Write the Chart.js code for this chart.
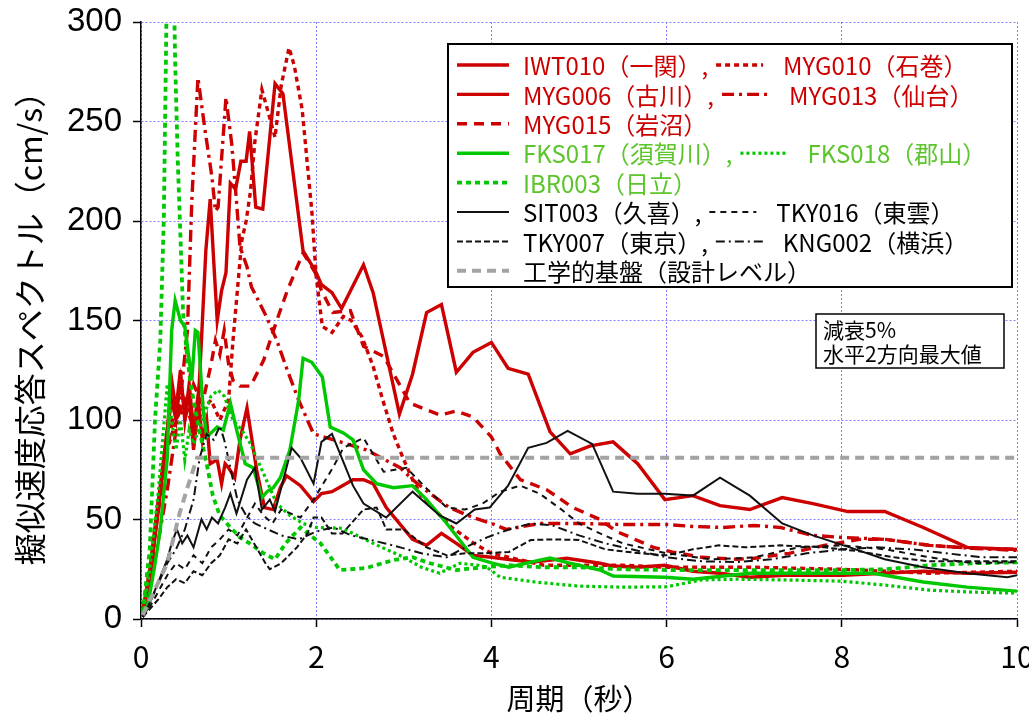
<!DOCTYPE html>
<html lang="ja">
<head>
<meta charset="utf-8">
<title>擬似速度応答スペクトル</title>
<script src="https://cdn.jsdelivr.net/npm/chart.js@4.4.1/dist/chart.umd.min.js"></script>
<style>
  html, body { margin: 0; padding: 0; background: #fff; }
  #wrap { width: 1029px; height: 713px; }
</style>
</head>
<body>
<div id="wrap"><canvas id="spectrum" width="1029" height="713"></canvas></div>
<script>
// [周期(秒), 擬似速度応答(cm/s)]
const IWT010 = [[0.02,4],[0.1,25],[0.2,60],[0.3,95],[0.35,110],[0.4,100],[0.45,120],[0.5,105],[0.55,112],[0.6,85],[0.65,105],[0.69,140],[0.74,185],[0.79,211],[0.83,180],[0.87,150],[0.92,165],[0.97,174],[1.02,219],[1.08,216],[1.14,230],[1.2,230],[1.24,245],[1.31,207],[1.39,206],[1.53,269],[1.62,264],[1.85,185],[1.99,175],[2.06,168],[2.18,164],[2.29,156],[2.54,178],[2.65,164],[2.95,103],[3.1,123],[3.26,154],[3.43,158],[3.6,124],[3.79,134],[4.0,139],[4.19,126],[4.42,123],[4.67,94],[4.9,83],[5.13,87],[5.39,89],[5.67,78],[5.98,60],[6.3,62],[6.61,57],[6.95,55],[7.32,61],[7.67,58],[8.07,54],[8.49,54],[8.93,46],[9.43,36],[10,35]];
const MYG010 = [[0.02,3],[0.1,25],[0.2,60],[0.3,85],[0.4,100],[0.5,110],[0.6,95],[0.7,105],[0.8,110],[0.9,100],[1.0,110],[1.05,140],[1.1,165],[1.15,190],[1.2,200],[1.25,215],[1.3,240],[1.38,266],[1.45,255],[1.53,242],[1.6,268],[1.69,287],[1.75,278],[1.84,256],[1.95,205],[2.0,172],[2.07,147],[2.18,144],[2.31,152],[2.4,150],[2.52,142],[2.65,127],[2.76,110],[2.88,93],[3.0,80],[3.1,70],[3.2,62],[3.35,55],[3.55,46],[3.8,38],[4.0,33],[4.3,30],[4.6,27],[5.0,27],[5.5,27],[6.0,26],[7.0,26],[8.0,25],[9.0,23],[10,24]];
const MYG006 = [[0.02,3],[0.1,20],[0.2,55],[0.3,95],[0.35,120],[0.4,105],[0.45,125],[0.5,100],[0.55,118],[0.6,95],[0.65,112],[0.7,90],[0.75,100],[0.79,78],[0.87,80],[0.92,68],[0.96,78],[1.0,76],[1.07,71],[1.13,90],[1.21,106],[1.32,75],[1.41,56],[1.51,55],[1.59,66],[1.66,72],[1.82,67],[1.97,59],[2.06,63],[2.18,64],[2.42,70],[2.54,70],[2.65,68],[2.8,56],[3.1,40],[3.26,37],[3.43,43],[3.6,38],[3.79,32],[4.0,31],[4.25,29.6],[4.48,28.6],[4.86,30.5],[5.24,28],[5.39,26.6],[5.67,26],[5.98,27],[6.3,24],[6.61,23],[6.95,21],[7.34,22],[8.02,22],[8.47,23],[8.93,24],[9.43,23],[10,23.5]];
const MYG013 = [[0.02,3],[0.1,18],[0.2,40],[0.3,65],[0.4,95],[0.45,111],[0.53,145],[0.58,210],[0.65,272],[0.73,246],[0.81,222],[0.85,205],[0.88,207],[0.97,262],[1.035,239],[1.09,210],[1.13,187],[1.21,177],[1.26,167],[1.34,160],[1.43,152],[1.55,140],[1.67,125],[1.8,110],[1.97,93],[2.2,90],[2.57,85],[2.96,76],[3.1,70],[3.3,63],[3.52,56],[3.79,51],[4.0,48],[4.17,45],[4.55,48],[5.0,48],[5.5,47.5],[6.0,47.5],[6.3,46.5],[6.64,46],[7.0,47],[7.3,46],[7.67,42],[8.0,41],[8.5,40],[9.0,37],[9.5,35.5],[10,34.5]];
const MYG015 = [[0.02,3],[0.1,25],[0.2,55],[0.3,85],[0.4,110],[0.5,100],[0.6,118],[0.7,108],[0.8,128],[0.85,140],[0.9,133],[0.95,145],[1.0,128],[1.05,120],[1.13,117],[1.25,117],[1.4,130],[1.55,150],[1.67,165],[1.85,184],[1.99,174],[2.06,165],[2.19,154],[2.39,155],[2.54,137],[2.77,132],[3.07,108.5],[3.41,102.5],[3.6,104.5],[3.79,101.5],[4.0,91.5],[4.1,83],[4.33,70],[4.63,65],[4.93,56],[5.24,50],[5.43,44],[5.85,36],[6.07,33.6],[6.4,31],[6.8,30],[7.0,30.5],[7.4,33],[7.8,37],[8.2,40],[8.5,40],[9.0,37],[9.5,35.5],[10,35]];
const FKS017 = [[0.02,2],[0.07,5],[0.15,25],[0.22,45],[0.3,81],[0.35,145],[0.39,160],[0.45,150],[0.5,147],[0.58,120],[0.62,145],[0.65,144],[0.71,105],[0.75,91.5],[0.87,96.5],[0.94,95],[1.02,108.5],[1.1,93.5],[1.19,78],[1.28,76],[1.38,61],[1.44,64],[1.51,66],[1.59,71],[1.7,85],[1.8,110],[1.85,131],[1.95,129],[2.07,121.6],[2.16,96.5],[2.31,93.5],[2.42,90],[2.54,75],[2.69,68],[2.88,66],[3.1,67],[3.26,60],[3.49,48],[3.79,31],[4.02,28],[4.2,26],[4.55,29.6],[4.67,30.6],[4.9,28],[5.24,24.6],[5.39,21.6],[5.98,21],[6.3,20],[6.95,23],[7.7,23],[8.36,23],[8.93,18.6],[9.43,16],[10,14]];
const FKS018 = [[0.02,2],[0.1,25],[0.2,65],[0.3,118],[0.35,100],[0.4,85],[0.45,100],[0.5,80],[0.55,95],[0.6,88],[0.7,100],[0.8,112],[0.88,115],[0.95,112],[1.05,100],[1.15,95],[1.25,88],[1.35,78],[1.45,68],[1.55,58],[1.7,52],[1.85,48],[2.0,46],[2.3,45.6],[2.42,43],[2.6,39],[2.77,35.6],[3.0,31],[3.2,26],[3.41,23],[3.64,28],[3.85,27],[3.95,26],[4.1,21],[4.5,18.6],[5.0,16.5],[5.5,16],[6.0,16.2],[6.4,19.6],[6.8,20],[7.5,19.5],[8.0,19],[8.5,17],[9.0,14.5],[9.5,13.5],[10,13]];
const IBR003 = [[0.02,3],[0.1,35],[0.16,100],[0.22,140],[0.26,200],[0.29,300],[0.31,330],[0.37,330],[0.39,280],[0.42,230],[0.46,180],[0.48,154],[0.52,135],[0.56,120],[0.62,105],[0.68,92],[0.75,78],[0.82,62],[0.9,52],[1.0,47],[1.13,41],[1.24,38],[1.4,33],[1.53,30],[1.65,38],[1.82,46],[2.05,38],[2.27,24.6],[2.57,25.6],[2.88,29.6],[3.1,31],[3.3,28],[3.6,24.6],[3.9,26],[4.2,27],[4.6,26],[5.0,26],[5.5,25],[6.0,24.6],[7.0,24.6],[8.0,24.6],[8.5,25],[9.0,27],[9.5,28],[10,28.5]];
const SIT003 = [[0.02,1],[0.1,8],[0.22,21],[0.3,30],[0.35,38],[0.41,45],[0.47,38],[0.53,42],[0.6,36],[0.69,50],[0.75,45],[0.81,51],[0.88,48],[0.96,56],[1.02,63],[1.09,53],[1.21,70],[1.3,76],[1.38,55],[1.47,60],[1.53,54],[1.72,86],[1.82,81],[1.97,68],[2.06,89],[2.18,93],[2.42,67],[2.54,58],[2.8,51],[3.1,64],[3.41,52],[3.6,48],[3.81,55],[3.98,56],[4.19,67],[4.42,86],[4.63,88.5],[4.87,94.5],[5.15,88],[5.39,64],[5.67,63],[5.98,63],[6.3,62],[6.61,71],[6.95,62],[7.32,48],[7.67,42],[8.09,36],[8.49,30],[8.93,26],[9.43,23],[9.89,21],[10,22]];
const TKY016 = [[0.02,1],[0.1,6],[0.2,14],[0.3,22],[0.4,28],[0.5,25],[0.6,32],[0.7,28],[0.8,36],[0.9,40],[1.0,45],[1.1,42],[1.2,50],[1.3,58],[1.4,52],[1.5,48],[1.6,55],[1.82,51],[1.97,60],[2.19,76],[2.31,86],[2.54,91],[2.77,74],[3.03,76],[3.25,66],[3.49,56],[3.7,55],[3.9,58],[4.1,64],[4.33,67],[4.55,63],[4.8,55],[5.0,48],[5.24,43],[5.5,38],[6.0,33],[6.5,30],[7.0,31],[7.5,36],[8.0,37],[8.5,35],[9.0,31],[9.5,28],[10,28.5]];
const TKY007 = [[0.02,1],[0.1,5],[0.2,10],[0.3,16],[0.4,20],[0.5,18],[0.6,24],[0.7,22],[0.8,28],[0.9,32],[1.0,40],[1.1,38],[1.2,45],[1.33,35],[1.42,28],[1.47,25],[1.6,28],[1.78,36],[1.9,43],[1.97,51],[2.06,51],[2.18,43],[2.3,43],[2.54,55],[2.69,56],[2.8,45],[3.0,45],[3.26,36],[3.49,32],[3.7,33],[3.9,33],[4.2,33.7],[4.45,39.7],[4.7,40],[5.0,39.7],[5.3,35],[5.7,33],[6.0,32],[6.3,35],[6.6,37],[6.9,36],[7.3,37],[7.8,36],[8.2,34],[8.6,31],[9.0,29],[9.5,29],[10,29]];
const KNG002 = [[0.02,1],[0.1,8],[0.2,18],[0.3,28],[0.4,35],[0.5,45],[0.6,60],[0.67,81],[0.75,93],[0.83,90],[0.9,97],[0.95,90],[1.0,80],[1.05,70],[1.1,60],[1.2,52],[1.3,48],[1.45,45],[1.6,42],[1.8,40],[2.0,44],[2.2,46],[2.4,42],[2.6,40],[2.96,36],[3.2,33],[3.49,31],[3.7,36],[3.95,41],[4.2,45],[4.45,48],[4.7,47],[5.0,42],[5.3,38],[5.6,35],[6.0,31],[6.4,29],[6.8,28.6],[7.2,30],[7.6,33],[8.0,35],[8.4,36],[8.8,35],[9.2,33],[9.6,31],[10,31]];
const DESIGN = [[0.02,2],[0.14,13],[0.3,28],[0.44,53],[0.53,66],[0.64,81],[10,81]];

const xTicks = [0, 2, 4, 6, 8, 10];
const yTicks = [0, 50, 100, 150, 200, 250, 300];

// 凡例の並び (1行に最大2つ)
const legendRows = [
	[['IWT010（一関）,', 'IWT010'], ['MYG010（石巻）', 'MYG010']],
	[['MYG006（古川）,', 'MYG006'], ['MYG013（仙台）', 'MYG013']],
	[['MYG015（岩沼）', 'MYG015']],
	[['FKS017（須賀川）,', 'FKS017'], ['FKS018（郡山）', 'FKS018']],
	[['IBR003（日立）', 'IBR003']],
	[['SIT003（久喜）,', 'SIT003'], ['TKY016（東雲）', 'TKY016']],
	[['TKY007（東京）,', 'TKY007'], ['KNG002（横浜）', 'KNG002']],
	[['工学的基盤（設計レベル）', 'DESIGN']],
];
const noteLines = ['減衰5%', '水平2方向最大値'];

const RED = '#cc0000', GREEN = '#00c800', BLACK = '#111111', GRAY = '#a3a3a3';
const RED_TXT = '#cc0000', GREEN_TXT = '#5cc52c', BLACK_TXT = '#000000';
const JP = '"Noto Sans CJK JP", "Noto Sans", sans-serif';

const toXY = arr => arr.map(p => ({ x: p[0], y: p[1] }));
const line = (key, data, color, width, dash, textColor) => ({
	key, label: key, data: toXY(data),
	borderColor: color, borderWidth: width, borderDash: dash,
	textColor, pointRadius: 0, tension: 0, fill: false,
});

const datasets = [
	line('DESIGN', DESIGN, GRAY, 4, [9, 6], BLACK_TXT),
	line('TKY007', TKY007, BLACK, 2, [6, 3], BLACK_TXT),
	line('KNG002', KNG002, BLACK, 2, [9, 4, 2, 4], BLACK_TXT),
	line('TKY016', TKY016, BLACK, 2, [6, 5], BLACK_TXT),
	line('SIT003', SIT003, BLACK, 2, [], BLACK_TXT),
	line('FKS018', FKS018, GREEN, 3.2, [3, 3], GREEN_TXT),
	line('IBR003', IBR003, GREEN, 3.8, [5, 4], GREEN_TXT),
	line('FKS017', FKS017, GREEN, 3.4, [], GREEN_TXT),
	line('MYG015', MYG015, RED, 3.4, [10, 7], RED_TXT),
	line('MYG013', MYG013, RED, 3.4, [12, 5, 3, 5], RED_TXT),
	line('MYG010', MYG010, RED, 3.4, [5, 4], RED_TXT),
	line('MYG006', MYG006, RED, 3.4, [], RED_TXT),
	line('IWT010', IWT010, RED, 3.4, [], RED_TXT),
];

// 凡例と注記を描く
const legendBox = {
	id: 'legendBox',
	afterDraw(chart) {
		const ctx = chart.ctx;
		const L = 448, T = 44, R = 1012, B = 287;
		ctx.save();
		ctx.fillStyle = '#fff';
		ctx.fillRect(L, T, R - L, B - T);
		ctx.lineWidth = 2;
		ctx.strokeStyle = '#000';
		ctx.strokeRect(L, T, R - L, B - T);
		ctx.font = '24px ' + JP;
		ctx.textBaseline = 'middle';
		const sample = (ds, x, y, len) => {
			ctx.save();
			ctx.strokeStyle = ds.borderColor;
			ctx.lineWidth = ds.borderWidth;
			ctx.setLineDash(ds.borderDash);
			ctx.beginPath();
			ctx.moveTo(x, y);
			ctx.lineTo(x + len, y);
			ctx.stroke();
			ctx.restore();
		};
		legendRows.forEach((row, i) => {
			const y = 65 + i * 29.4;
			let x = 457;
			row.forEach(([text, key], j) => {
				const ds = chart.data.datasets.find(d => d.key === key);
				if (j === 0) {
					sample(ds, x, y, 52);
					x += 66;
				} else {
					x += 8;
					sample(ds, x, y, 47);
					x += 47 + 20;
				}
				ctx.fillStyle = ds.textColor;
				ctx.fillText(text, x, y + 1);
				x += ctx.measureText(text).width;
			});
		});

		// 減衰5% の注記
		ctx.fillStyle = '#fff';
		ctx.fillRect(816, 314, 188, 54);
		ctx.lineWidth = 1.5;
		ctx.strokeRect(816, 314, 188, 54);
		ctx.fillStyle = '#000';
		ctx.font = '21px ' + JP;
		ctx.textBaseline = 'alphabetic';
		ctx.fillText(noteLines[0], 823, 338);
		ctx.fillText(noteLines[1], 823, 362);
		ctx.restore();
	}
};

const gridStyle = { color: '#8080ff', lineWidth: 1, tickLength: 8, tickColor: '#000', tickWidth: 1.5 };

new Chart(document.getElementById('spectrum'), {
	type: 'line',
	data: { datasets },
	options: {
		responsive: false,
		animation: false,
		devicePixelRatio: 1,
		layout: { padding: { top: 22, right: 12, left: 0, bottom: 0 } },
		plugins: { legend: { display: false }, tooltip: { enabled: false } },
		scales: {
			x: {
				type: 'linear', min: 0, max: 10,
				afterFit: s => { s.height = 94; s.paddingLeft = 0; s.paddingRight = 0; },
				afterBuildTicks: s => { s.ticks = xTicks.map(v => ({ value: v })); },
				grid: gridStyle,
				border: { color: '#000', width: 1.5, dash: [2, 2] },
				ticks: { color: '#000', font: { family: JP, size: 30 }, padding: 12, maxRotation: 0 },
				title: { display: true, text: '周期（秒）', color: '#000', font: { family: JP, size: 29, lineHeight: 1 }, padding: { top: 0, bottom: 0 } },
			},
			y: {
				type: 'linear', min: 0, max: 300,
				afterFit: s => { s.width = 141; s.paddingTop = 0; s.paddingBottom = 0; },
				afterBuildTicks: s => { s.ticks = yTicks.map(v => ({ value: v })); },
				grid: gridStyle,
				border: { color: '#000', width: 1.5, dash: [2, 2] },
				ticks: { color: '#000', font: { family: '"Liberation Sans", Arial, sans-serif', size: 33 }, padding: 11 },
				title: { display: true, text: '擬似速度応答スペクトル（cm/s）', color: '#000', font: { family: JP, size: 32, lineHeight: 1 }, padding: { top: 14, bottom: 0 } },
			},
		},
	},
	plugins: [legendBox],
});
</script>
</body>
</html>
